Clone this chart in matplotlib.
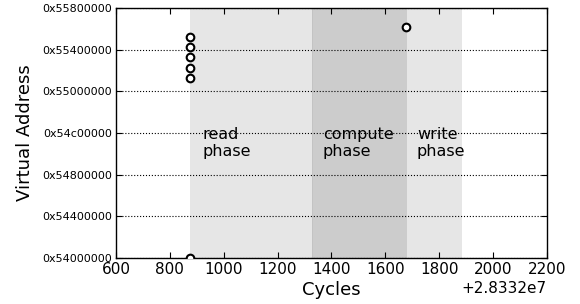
import matplotlib
matplotlib.use('Agg')
import matplotlib.pyplot as plt
from matplotlib.ticker import FuncFormatter, MultipleLocator, ScalarFormatter

# memory accesses: cycle and virtual address
cycles = [28332875, 28332875, 28332875, 28332875, 28332875, 28332875, 28333677]
addrs = [0x54000000, 0x55140000, 0x55240000, 0x55340000, 0x55440000, 0x55540000, 0x55630000]

# phases (start, end cycle)
phase_names = ['read\nphase', 'compute\nphase', 'write\nphase']
phase_start = [28332875, 28333328, 28333682]
phase_end = [28333328, 28333682, 28333884]
phase_colors = ['0.9', '0.8', '0.9']
phase_edges = ['none', '0.74', 'none']
label_x = [28332923, 28333368, 28333717]

fig = plt.figure(figsize=(5.8, 3.04), dpi=100)
ax = fig.add_axes([0.2, 0.151, 0.743, 0.823])

for s, e, c, ec in zip(phase_start, phase_end, phase_colors, phase_edges):
    ax.axvspan(s, e, facecolor=c, edgecolor=ec, linewidth=0.6, zorder=0)

for name, x in zip(phase_names, label_x):
    ax.text(x, 0.522, name, transform=ax.get_xaxis_transform(), fontsize=11.5,
            va='top', ha='left', linespacing=1.1)

ax.plot(cycles, addrs, 'o', markerfacecolor='white', markeredgecolor='black',
        markeredgewidth=1.5, markersize=5.5, clip_on=True, zorder=3)

ax.set_xlim(28332600, 28334200)
ax.set_ylim(0x54000000, 0x55800000)
ax.xaxis.set_major_locator(MultipleLocator(200))
ax.yaxis.set_major_locator(MultipleLocator(0x400000))
ax.yaxis.set_major_formatter(FuncFormatter(lambda v, p: '0x%08x' % int(v)))
fmt = ScalarFormatter(useOffset=28332000)
ax.xaxis.set_major_formatter(fmt)
ax.xaxis.get_offset_text().set_fontsize(11)

ax.yaxis.grid(True, linestyle=':', color='black', linewidth=0.8)
ax.tick_params(direction='in', top=True, right=True, length=4)
ax.tick_params(axis='x', labelsize=11, pad=3)
ax.tick_params(axis='y', labelsize=8, pad=3)
for sp in ax.spines.values():
    sp.set_linewidth(1.0)

ax.set_xlabel('Cycles', fontsize=13, labelpad=3)
ax.set_ylabel('Virtual Address', fontsize=13, labelpad=6)

fig.savefig('out.png', dpi=100)
